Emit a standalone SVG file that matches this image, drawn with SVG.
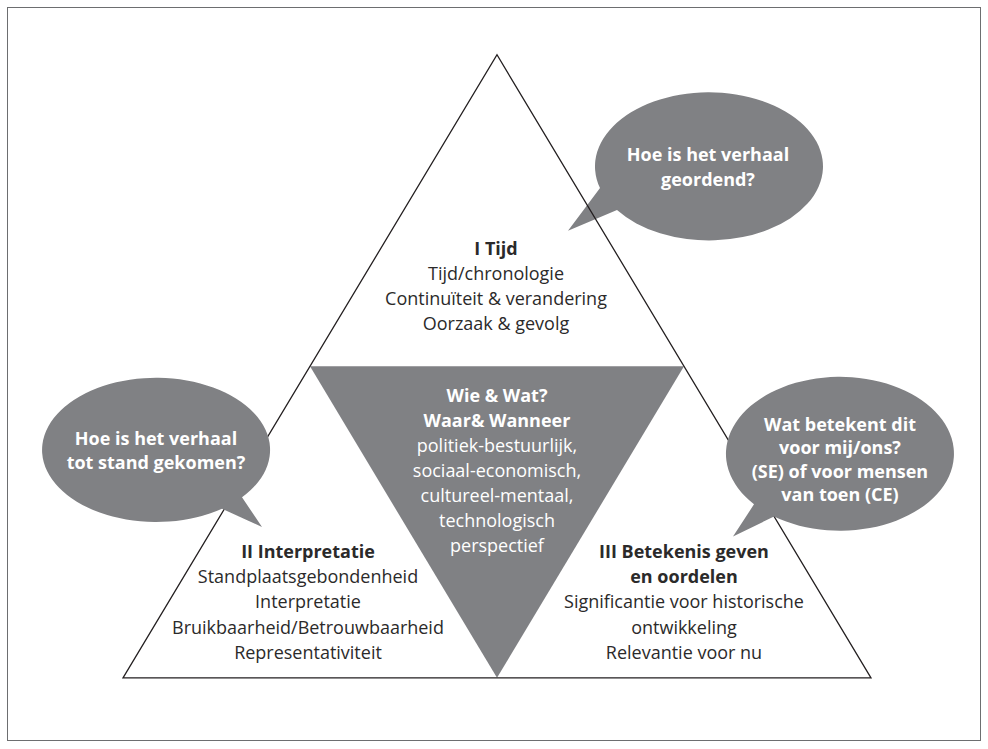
<svg xmlns="http://www.w3.org/2000/svg" width="988" height="749" viewBox="0 0 988 749">
<style>
.t{font-family:"Open Sans","Noto Sans","Liberation Sans",sans-serif;font-size:18px;fill:#2b2a2a;text-anchor:middle}
.b{font-weight:bold}
.w{fill:#ffffff}
.g{fill:#808184}
.o{fill:none;stroke:#231f20;stroke-width:1.3;stroke-linejoin:miter}
</style>
<rect x="0" y="0" width="988" height="749" fill="#ffffff"/>
<rect x="7.5" y="7.5" width="973" height="733" fill="none" stroke="#6d6e70" stroke-width="1"/>
<g transform="scale(1,0.9615)">
<g id="center">
<polygon class="g" points="310,381 684,381 497,705"/>
<text class="t w b" x="497" y="418">Wie &amp; Wat?</text>
<text class="t w b" x="497" y="444">Waar&amp; Wanneer</text>
<text class="t w" x="497" y="470">politiek-bestuurlijk,</text>
<text class="t w" x="497" y="496">sociaal-economisch,</text>
<text class="t w" x="497" y="522">cultureel-mentaal,</text>
<text class="t w" x="497" y="548">technologisch</text>
<text class="t w" x="497" y="574">perspectief</text>
</g>
<g id="bubble-top">
<path class="g" d="M600,195.6 A114,77 0 1 1 617,218.5 L568,240 Z"/>
<text class="t w b" x="708" y="167">Hoe is het verhaal</text>
<text class="t w b" x="708" y="193">geordend?</text>
</g>
<g id="triangle">
<polygon class="o" points="497,57 871,705 123,705"/>
</g>
<g id="bubble-left">
<path class="g" d="M242,517.2 A114,75 0 1 0 222,529.1 L262,548 Z"/>
<text class="t w b" x="156" y="463">Hoe is het verhaal</text>
<text class="t w b" x="156" y="488">tot stand gekomen?</text>
</g>
<g id="bubble-right">
<path class="g" d="M754,524.5 A114,80 0 1 1 774,537.2 L733,558 Z"/>
<text class="t w b" x="840" y="448">Wat betekent dit</text>
<text class="t w b" x="840" y="472.5">voor mij/ons?</text>
<text class="t w b" x="840" y="497">(SE) of voor mensen</text>
<text class="t w b" x="840" y="521">van toen (CE)</text>
</g>
<g id="tijd">
<text class="t b" x="496" y="265">I Tijd</text>
<text class="t" x="496" y="291">Tijd/chronologie</text>
<text class="t" x="496" y="317">Continuïteit &amp; verandering</text>
<text class="t" x="496" y="343">Oorzaak &amp; gevolg</text>
</g>
<g id="interpretatie">
<text class="t b" x="308" y="580">II Interpretatie</text>
<text class="t" x="308" y="606">Standplaatsgebondenheid</text>
<text class="t" x="308" y="632">Interpretatie</text>
<text class="t" x="308" y="659">Bruikbaarheid/Betrouwbaarheid</text>
<text class="t" x="308" y="685">Representativiteit</text>
</g>
<g id="betekenis">
<text class="t b" x="684" y="580">III Betekenis geven</text>
<text class="t b" x="684" y="606">en oordelen</text>
<text class="t" x="684" y="632">Significantie voor historische</text>
<text class="t" x="684" y="659">ontwikkeling</text>
<text class="t" x="684" y="685">Relevantie voor nu</text>
</g>
<g id="connectors"></g>
</g>
</svg>
